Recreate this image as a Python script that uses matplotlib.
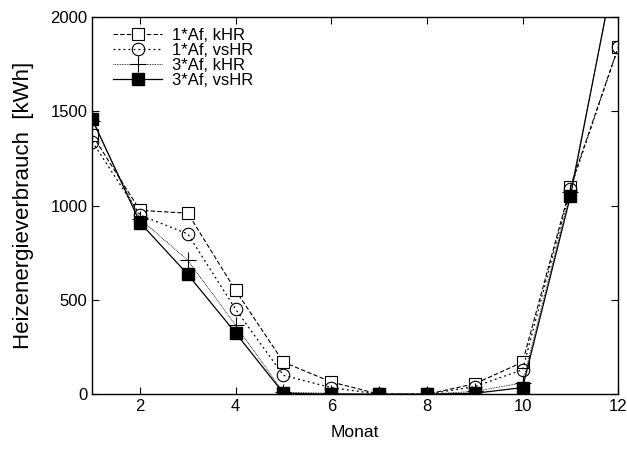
import matplotlib
matplotlib.use("Agg")
import matplotlib.pyplot as plt

plt.rcParams["font.family"] = ["Liberation Sans", "DejaVu Sans"]

monat = [1, 2, 3, 4, 5, 6, 7, 8, 9, 10, 11, 12]
af1_khr = [1375, 975, 960, 550, 170, 65, 0, 0, 55, 170, 1100, 1840]
af1_vshr = [1340, 950, 850, 450, 100, 35, 0, 0, 40, 130, 1090, 1840]
af3_khr = [1450, 930, 710, 365, 10, 5, 0, 0, 15, 60, 1070, 2330]
af3_vshr = [1460, 910, 635, 325, 5, 0, 0, 0, 5, 35, 1050, 2350]

fig = plt.figure(figsize=(6.27, 4.5), dpi=100)
ax = fig.add_axes([0.147, 0.124, 0.839, 0.838])

ax.plot(monat, af1_khr, color="black", lw=0.8, ls=(0, (4, 2)),
        marker="s", ms=9, mfc="white", mec="black", mew=0.8, label="1*Af, kHR")
ax.plot(monat, af1_vshr, color="black", lw=0.9, ls=(0, (1.5, 2.5)),
        marker="o", ms=9, mfc="none", mec="black", mew=0.8, label="1*Af, vsHR")
ax.plot(monat, af3_khr, color="black", lw=0.6, ls=(0, (1, 1)),
        marker="+", ms=11, mec="black", mew=0.8, label="3*Af, kHR")
ax.plot(monat, af3_vshr, color="black", lw=0.9, ls="-",
        marker="s", ms=9, mfc="black", mec="black", label="3*Af, vsHR")

ax.set_xlim(1, 12)
ax.set_ylim(0, 2000)
ax.set_xticks([2, 4, 6, 8, 10, 12])
ax.set_yticks([0, 500, 1000, 1500, 2000])
ax.tick_params(direction="in", top=True, right=True, labelsize=12, length=5)
for s in ax.spines.values():
    s.set_linewidth(1.0)

ax.set_xlabel("Monat", fontsize=12.5, labelpad=8)
ax.set_ylabel("Heizenergieverbrauch  [kWh]", fontsize=16, labelpad=12)

ax.legend(loc="upper left", frameon=False, fontsize=12, handlelength=2.95,
          handletextpad=0.6, labelspacing=0.0, borderaxespad=0.0,
          bbox_to_anchor=(0.027, 0.99))

fig.savefig("out.png", dpi=100)
